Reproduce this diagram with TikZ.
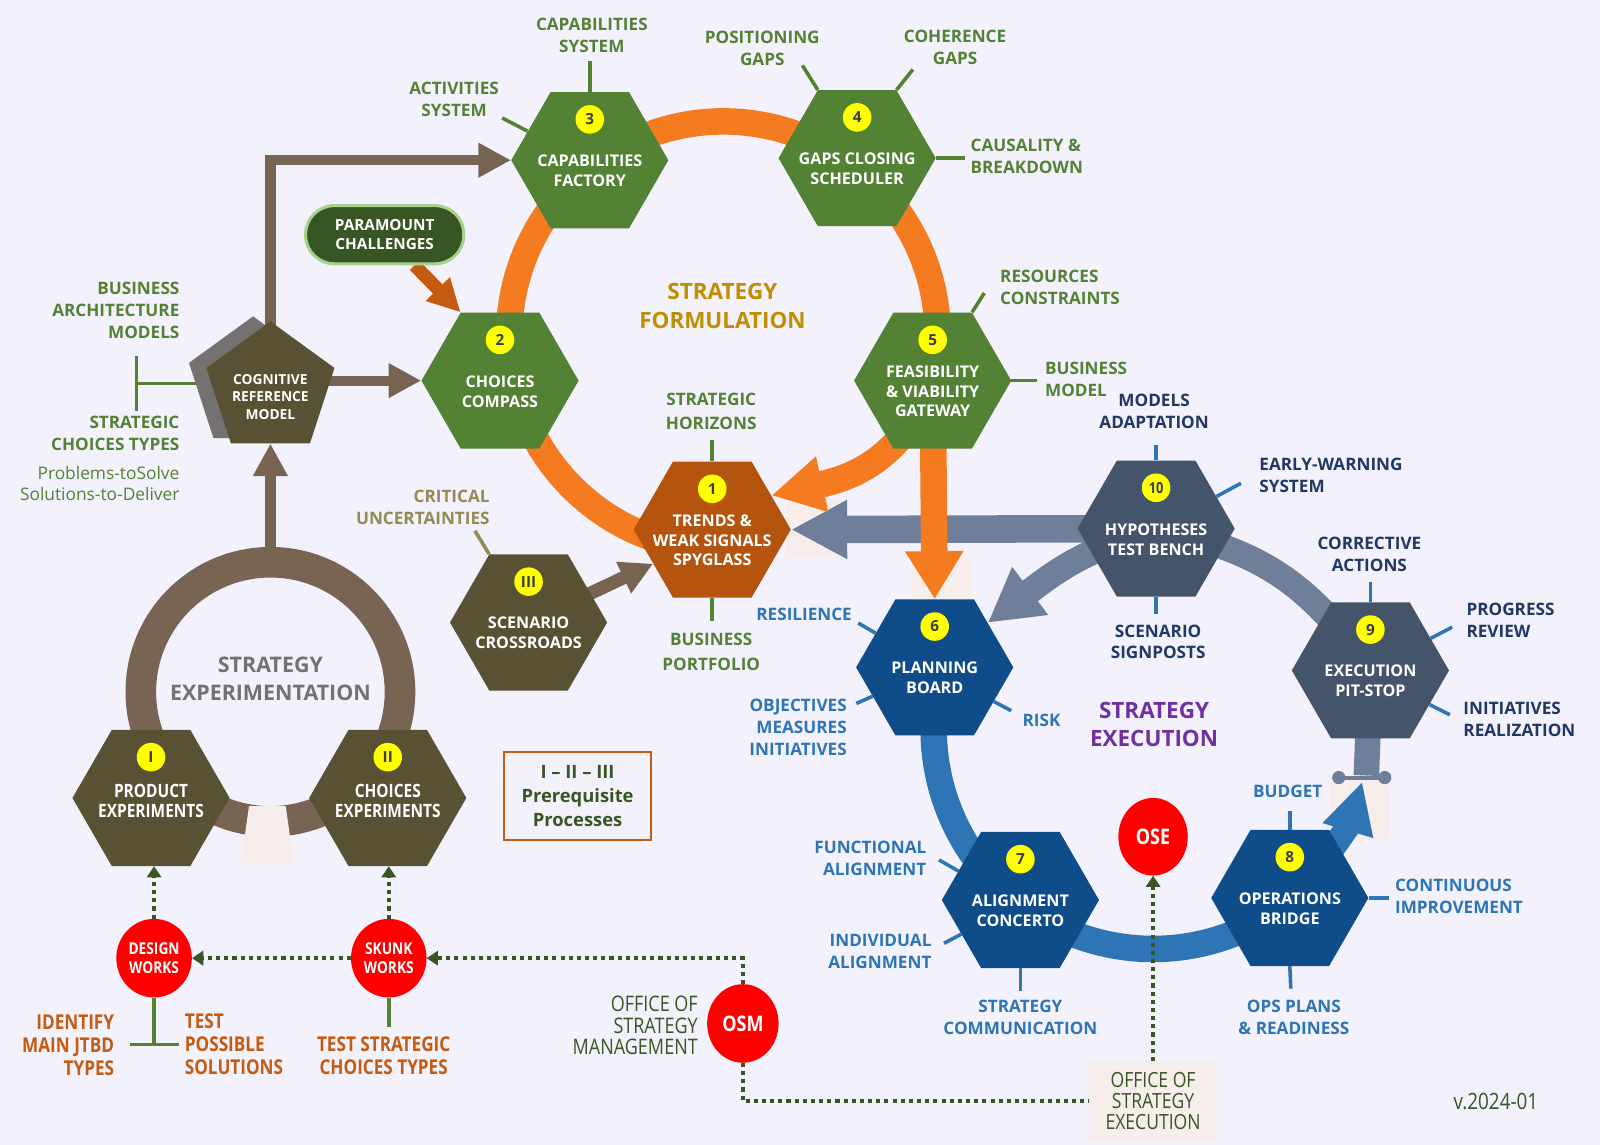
\documentclass[tikz,border=0pt]{standalone}
\usepackage{fontspec}
\setmainfont{Open Sans}
\newfontfamily\condf[FakeStretch=0.84]{Open Sans}
\usetikzlibrary{shapes.geometric,arrows.meta,calc}
\pgfdeclarelayer{bgl}
\pgfdeclarelayer{back}
\pgfsetlayers{bgl,back,main}
\definecolor{bgc}{HTML}{F3F1FC}
\definecolor{grn}{HTML}{548235}
\definecolor{dgrn}{HTML}{375623}
\definecolor{lgrn}{HTML}{A9D18E}
\definecolor{orng}{HTML}{F47B20}
\definecolor{rust}{HTML}{B4540F}
\definecolor{ochre}{HTML}{C55A11}
\definecolor{gold}{HTML}{BF8F00}
\definecolor{olv}{HTML}{595133}
\definecolor{brn}{HTML}{776452}
\definecolor{shd}{HTML}{767171}
\definecolor{khaki}{HTML}{948A54}
\definecolor{slate}{HTML}{44546A}
\definecolor{slatel}{HTML}{6F7F99}
\definecolor{dblue}{HTML}{0F4C8A}
\definecolor{mblue}{HTML}{2E75B6}
\definecolor{navy}{HTML}{1F3864}
\definecolor{purp}{HTML}{7030A0}
\definecolor{pinkb}{HTML}{F7EDEB}
\definecolor{ylw}{HTML}{FFFF00}
\definecolor{numtxt}{HTML}{3C3C4C}
\tikzset{
  hexa/.style={regular polygon, regular polygon sides=6, minimum size=154pt, inner sep=0pt, draw=none},
  penta/.style={regular polygon, regular polygon sides=5, minimum size=132pt, inner sep=0pt, draw=none},
  numc/.style={circle, fill=ylw, minimum size=28pt, inner sep=0pt, text=numtxt, font=\bfseries\fontsize{15}{15}\selectfont},
  hext/.style={text=white, align=center, inner sep=0pt, font=\bfseries\fontsize{15.8}{19.5}\selectfont},
  hextc/.style={text=white, align=center, inner sep=0pt, yshift=8pt, font=\condf\bfseries\fontsize{18}{19.5}\selectfont},
  lbl/.style={align=center, inner sep=0pt, font=\bfseries\fontsize{16.8}{21.5}\selectfont},
  lblw/.style={align=center, inner sep=0pt, font=\bfseries\fontsize{16.8}{24}\selectfont},
  lblc/.style={align=center, inner sep=0pt, font=\condf\bfseries\fontsize{20}{22.5}\selectfont},
  tk/.style={draw=#1, line width=3.5pt},
  redc/.style={ellipse, fill=red, minimum width=74pt, minimum height=77pt, inner sep=0pt, text=white, align=center, font=\condf\bfseries\fontsize{16}{18}\selectfont},
  dotln/.style={draw=dgrn, line width=4pt, dash pattern=on 4pt off 4pt},
  dotar/.style={dotln, -{Triangle[length=11pt,width=14pt]}},
  brnar/.style={draw=brn, line width=10pt, line join=miter, -{Triangle[length=32pt,width=32pt]}},
  title/.style={align=center, inner sep=0pt, font=\bfseries\fontsize{22}{28}\selectfont}
}
\newcommand\hexn[6]{%
  \node[hexa,fill=#3] (#1) at (#2) {};
  \node[numc] (#1-n) at ($(#1.center)+(0,-40)$) {#4};
  \node[#6] (#1-t) at ($(#1.center)+(0,10.5)$) {#5};
}
\begin{document}
\begin{tikzpicture}[x=1pt,y=-1pt]
\begin{pgfonlayer}{bgl}
  \fill[bgc] (0,0) rectangle (1568,1122);
\end{pgfonlayer}
\useasboundingbox (0,0) rectangle (1568,1122);

% ---------- nodes ----------
\hexn{h3}{578,157}{grn}{3}{CAPABILITIES\\FACTORY}{hext}
\hexn{h4}{840,155}{grn}{4}{GAPS CLOSING\\SCHEDULER}{hext}
\hexn{h2}{490,373}{grn}{2}{CHOICES\\COMPASS}{hext}
\hexn{h5}{914,373}{grn}{5}{FEASIBILITY\\\& VIABILITY\\GATEWAY}{hext}
\hexn{h1}{698,519}{rust}{1}{TRENDS \&\\WEAK SIGNALS\\SPYGLASS}{hext}
\hexn{hIII}{518,610}{olv}{III}{SCENARIO\\CROSSROADS}{hext}
\hexn{h10}{1133,518}{slate}{\condf 10}{HYPOTHESES\\TEST BENCH}{hext}
\hexn{h6}{916,654}{dblue}{6}{PLANNING\\BOARD}{hext}
\hexn{h9}{1343,657}{slate}{9}{EXECUTION\\PIT-STOP}{hext}
\hexn{h7}{1000,882}{dblue}{7}{ALIGNMENT\\CONCERTO}{hext}
\hexn{h8}{1264,880}{dblue}{8}{OPERATIONS\\BRIDGE}{hext}
\hexn{hI}{148,782}{olv}{I}{PRODUCT\\EXPERIMENTS}{hextc}
\hexn{hII}{380,782}{olv}{II}{CHOICES\\EXPERIMENTS}{hextc}

\node[penta, fill=shd] (cogs) at (248,376) {};
\node[penta, fill=olv] (cog) at (265,381) {};
\node[text=white, align=center, inner sep=0pt, font=\bfseries\fontsize{13.5}{17.5}\selectfont] (cogt) at (265,389) {COGNITIVE\\REFERENCE\\MODEL};

\node[fill=dgrn, draw=lgrn, line width=3pt, rounded corners=28pt, minimum width=155pt, minimum height=57pt, text=white, align=center, inner sep=0pt, font=\bfseries\fontsize{15}{19}\selectfont] (para) at (377,230) {PARAMOUNT\\CHALLENGES};

\node[redc, minimum width=68pt, minimum height=76pt, font=\condf\bfseries\fontsize{21}{21}\selectfont] (ose) at (1130,820) {OSE};
\node[redc, minimum width=70pt, minimum height=77pt, font=\condf\bfseries\fontsize{21}{21}\selectfont] (osm) at (728,1003) {OSM};
\node[redc] (dw) at (151,939) {DESIGN\\WORKS};
\node[redc] (sw) at (381,939) {SKUNK\\WORKS};

\node[fill=pinkb, minimum width=126pt, minimum height=78pt, inner sep=0pt, text=dgrn, align=center, font=\condf\fontsize{20.5}{21}\selectfont] (oseb) at (1130,1079) {OFFICE OF\\STRATEGY\\EXECUTION};
\node[text=dgrn, anchor=east, align=right, inner sep=0pt, font=\condf\fontsize{21}{21}\selectfont] (osml) at (684,1005) {OFFICE OF\\STRATEGY\\MANAGEMENT};

\node[draw=ochre, line width=1.5pt, minimum width=144pt, minimum height=86pt, inner sep=0pt, align=center, text=dgrn, font=\bfseries\fontsize{18}{23.5}\selectfont] (prq) at (566,780) {I -- II -- III\\Prerequisite\\Processes};

\node[text=dgrn, inner sep=0pt, font=\condf\fontsize{22}{22}\selectfont] (ver) at (1466,1079) {v.2024-01};

% titles
\node[title, text=gold] (tf) at (708,300) {STRATEGY\\FORMULATION};
\node[title, text=shd, font=\bfseries\fontsize{21}{27}\selectfont] (tx) at (265,665) {STRATEGY\\EXPERIMENTATION};
\node[title, text=purp] (te) at (1131,710) {STRATEGY\\EXECUTION};

% ---------- background shapes and arrows ----------
\begin{pgfonlayer}{back}
  \draw[brn, line width=30pt] (265,678) circle[radius=127];
  \fill[pinkb] (244,790) -- (280,790) -- (288,846) -- (236,846) -- cycle;
  \fill[pinkb] (770,490) rectangle (826,547);
  \fill[pinkb] (893,547) rectangle (952,587);
  \fill[pinkb] (1303,762) rectangle (1362,822);
  \draw[orng, line width=26pt] (709,329) ++(100:210) arc[start angle=100, end angle=372, radius=210];
  \draw[mblue, line width=26pt] (1130,715) ++(182:215) arc[start angle=182, end angle=140, radius=215];
  \draw[mblue, line width=26pt] (1130,715) ++(125:215) arc[start angle=125, end angle=55, radius=215];
  \draw[slatel, line width=25pt] (h10.center) .. controls (1240,540) and (1285,575) .. (h9.center);
  \draw[slatel, line width=27pt, -{Triangle[length=55pt,width=54pt]}] (h10.center) -- (h1.east);
  \draw[slatel, line width=25pt, -{Triangle[length=52pt,width=55pt]}] (h10.center) .. controls (1060,540) and (1035,560) .. (h6.40);
  \draw[orng, line width=26pt, -{Triangle[length=51pt,width=52pt]}] (h5.center) .. controls (885,450) and (835,468) .. (h1.30);
  \draw[orng, line width=26pt, -{Triangle[length=47pt,width=54pt]}] (h5.center) -- (h6.north);
  \coordinate (bluetip) at (1335,766);
  \draw[mblue, line width=24pt, -{Triangle[length=50pt,width=48pt]}] (h8.center) .. controls (1305,840) and (1325,800) .. (bluetip);
  \coordinate (knobL) at (1312,762);
  \coordinate (knobR) at (1357,762);
  \draw[slatel, line width=25pt] (h9.center) -- (1339,760);
  \draw[slatel, line width=4pt] (knobL) -- (knobR);
  \fill[slatel] (knobL) circle[radius=6.5];
  \fill[slatel] (knobR) circle[radius=6.5];
  \draw[brnar] (cog.center) -- (cog.center |- h3.west) -- (h3.west);
  \draw[brnar] (cog.center |- h2.west) -- (h2.west);
  \coordinate (expt) at (265,545);
  \draw[brnar] (expt) -- (cog.south);
  \draw[brn, line width=13pt, -{Triangle[length=32pt,width=32pt]}] (hIII.center) -- (h1.210);
  \draw[ochre, line width=13pt, -{Triangle[length=32pt,width=31pt]}] (para) -- (h2.120);
\end{pgfonlayer}

% ---------- dotted connectors ----------
\draw[dotar] (dw.north) -- (dw.north |- hI.south);
\draw[dotar] (sw.north) -- (sw.north |- hII.south);
\draw[dotar] (sw.west) -- (dw.east);
\draw[dotar] (osm.north) |- (sw.east);
\draw[dotln] (osm.south) |- (oseb.west);
\draw[dotar] (oseb.north) -- (ose.south);

% ---------- ticks ----------
\draw[tk=grn] (h3.155) -- ++(-25,-13);
\draw[tk=grn] (h3.north) -- ++(0,-30);
\draw[tk=grn] (h4.120) -- ++(-15,-24);
\draw[tk=grn] (h4.60) -- ++(16,-20);
\draw[tk=grn] (h4.east) -- ++(28,0);
\draw[tk=grn] (h5.60) -- ++(12,-19);
\draw[tk=grn] (h5.east) -- ++(25,0);
\draw[tk=grn] (h1.north) -- ++(0,-21);
\draw[tk=grn] (h1.south) -- ++(0,23);
\draw[tk=khaki] (hIII.120) -- ++(-14,-23);
\draw[tk=mblue] (h10.north) -- ++(0,-15);
\draw[tk=mblue] (h10.28) -- ++(24,-13);
\draw[tk=mblue] (h10.south) -- ++(0,17);
\draw[tk=mblue] (h9.north) -- ++(0,-20);
\draw[tk=mblue] (h9.28) -- ++(21,-11);
\draw[tk=mblue] (h9.-30) -- ++(20,10);
\draw[tk=mblue] (h8.north) -- ++(0,-18);
\draw[tk=mblue] (h8.east) -- ++(20,0);
\draw[tk=mblue] (h8.south) -- ++(1,22);
\draw[tk=mblue] (h7.south) -- ++(0,22);
\draw[tk=mblue] (h7.155) -- ++(-19,-11);
\draw[tk=mblue] (h7.210) -- ++(-17,9);
\draw[tk=mblue] (h6.-30) -- ++(17,9);
\draw[tk=mblue] (h6.205) -- ++(-16,7);
\draw[tk=mblue] (h6.150) -- ++(-17,-10);
\draw[tk=grn] (cogs.west) -- ++(-58,0) coordinate (bk);
\draw[tk=grn] ($(bk)+(0,-27)$) -- ($(bk)+(0,27)$);
\draw[tk=grn] (dw.south) -- ++(0,46) coordinate (dwb);
\draw[tk=grn] ($(dwb)+(-24,0)$) -- ($(dwb)+(24,0)$);
\draw[tk=grn] (sw.south) -- ++(0,29);

% ---------- labels ----------
\node[lbl,text=grn] (l1) at (445,97) {ACTIVITIES\\SYSTEM};
\node[lbl,text=grn] (l2) at (580,35) {CAPABILITIES\\SYSTEM};
\node[lbl,text=grn] (l3) at (747,47) {POSITIONING\\GAPS};
\node[lbl,text=grn] (l4) at (936,46) {COHERENCE\\GAPS};
\node[lbl,text=grn,anchor=west,align=left] (l5) at (951,153) {CAUSALITY \&\\BREAKDOWN};
\node[lbl,text=grn,anchor=west,align=left] (l6) at (980,282) {RESOURCES\\CONSTRAINTS};
\node[lbl,text=grn,anchor=west,align=left] (l7) at (1024,372) {BUSINESS\\MODEL};
\node[lblw,text=grn] (l8) at (697,403) {STRATEGIC\\HORIZONS};
\node[lblw,text=grn] (l9) at (697,639) {BUSINESS\\PORTFOLIO};
\node[lbl,text=grn,anchor=east,align=right] (l10) at (176,304) {BUSINESS\\ARCHITECTURE\\MODELS};
\node[lbl,text=grn,anchor=east,align=right] (l11) at (176,425) {STRATEGIC\\CHOICES TYPES};
\node[text=grn,anchor=east,align=right,inner sep=0pt,font=\fontsize{17}{21}\selectfont] (l12) at (176,474) {Problems-toSolve\\Solutions-to-Deliver};
\node[lbl,text=khaki,anchor=east,align=right] (l13) at (480,497) {CRITICAL\\UNCERTAINTIES};

\node[lbl,text=navy] (n1) at (1131,403) {MODELS\\ADAPTATION};
\node[lbl,text=navy,anchor=west,align=left] (n2) at (1234,466) {EARLY-WARNING\\SYSTEM};
\node[lbl,text=navy] (n3) at (1135,629) {SCENARIO\\SIGNPOSTS};
\node[lbl,text=navy] (n4) at (1342,543) {CORRECTIVE\\ACTIONS};
\node[lbl,text=navy,anchor=west,align=left] (n5) at (1437,608) {PROGRESS\\REVIEW};
\node[lbl,text=navy,anchor=west,align=left] (n6) at (1434,705) {INITIATIVES\\REALIZATION};

\node[lbl,text=mblue,anchor=east] (b1) at (835,602) {RESILIENCE};
\node[lbl,text=mblue,anchor=east,align=right] (b2) at (830,713) {OBJECTIVES\\MEASURES\\INITIATIVES};
\node[lbl,text=mblue,anchor=west] (b3) at (1002,706) {RISK};
\node[lbl,text=mblue,anchor=east,align=right] (b4) at (908,841) {FUNCTIONAL\\ALIGNMENT};
\node[lbl,text=mblue,anchor=east,align=right] (b5) at (913,932) {INDIVIDUAL\\ALIGNMENT};
\node[lbl,text=mblue] (b6) at (1000,997) {STRATEGY\\COMMUNICATION};
\node[lbl,text=mblue] (b7) at (1262,776) {BUDGET};
\node[lbl,text=mblue,anchor=west,align=left] (b8) at (1367,878) {CONTINUOUS\\IMPROVEMENT};
\node[lbl,text=mblue] (b9) at (1268,997) {OPS PLANS\\\& READINESS};

\node[lblc,text=ochre,anchor=east,align=right] (o1) at (112,1024) {IDENTIFY\\MAIN JTBD\\TYPES};
\node[lblc,text=ochre,anchor=west,align=left] (o2) at (181,1023) {TEST\\POSSIBLE\\SOLUTIONS};
\node[lblc,text=ochre] (o3) at (376,1035) {TEST STRATEGIC\\CHOICES TYPES};
\end{tikzpicture}
\end{document}
